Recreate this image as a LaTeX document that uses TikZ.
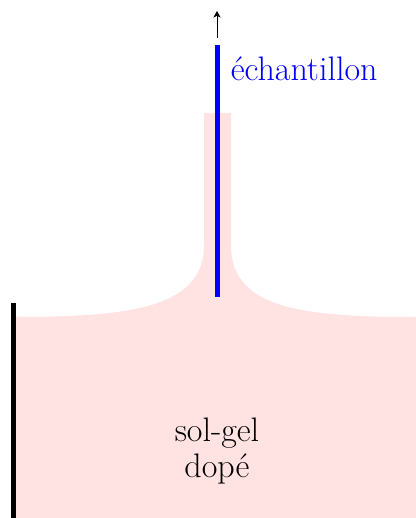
\documentclass[tikz,border=0pt]{standalone}
\usepackage{fontspec}
\usetikzlibrary{arrows.meta}
\definecolor{gel}{RGB}{255,227,227}
\definecolor{sample}{RGB}{0,0,255}
\tikzset{
  lbl/.style={inner sep=0pt,font=\fontsize{25.5}{27}\selectfont}
}
\begin{document}
\begin{tikzpicture}[x=0.75pt,y=-0.75pt]
\useasboundingbox (0,0) rectangle (416,518);
\fill[gel] (13,317) .. controls (130,317) and (204,308) .. (204,245) -- (204,113) -- (231,113) -- (231,245) .. controls (231,308) and (300,317) .. (416,317) -- (416,518) -- (13,518) -- cycle;
\coordinate (plateTop) at (13,303);
\coordinate (plateBot) at (13,518);
\draw[line width=3.75pt,black] (plateTop) -- (plateBot);
\coordinate (sampleTop) at (217,45);
\coordinate (sampleBot) at (217,297);
\draw[line width=3.75pt,sample] (sampleTop) -- (sampleBot);
\coordinate (arrowBot) at (217,38);
\coordinate (arrowTop) at (217,11);
\draw[-{Stealth[length=5pt,width=5.5pt,inset=1.5pt]},line width=0.75pt] (arrowBot) -- (arrowTop);
\node[lbl,text=sample,anchor=base west] (ech) at (230.5,80) {échantillon};
\node[lbl,align=center,anchor=center] (sol) at (217,451) {sol-gel\\dopé};
\end{tikzpicture}
\end{document}
